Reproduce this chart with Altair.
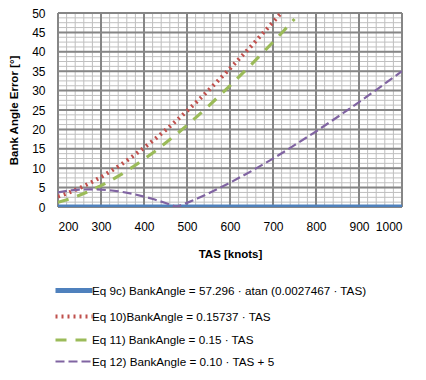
import altair as alt
import pandas as pd

# ---- data ----
labels = [
    "Eq 9c) BankAngle = 57.296 · atan (0.0027467 · TAS)",
    "Eq 10)BankAngle = 0.15737 · TAS",
    "Eq 11) BankAngle = 0.15 · TAS",
    "Eq 12) BankAngle = 0.10 · TAS + 5",
]
colors = ["#4F81BD", "#C0504D", "#9BBB59", "#8064A2"]

tas_blue = [200, 1000]
err_blue = [0, 0]

tas_red = [200, 225, 250, 275, 300, 325, 350, 375, 400, 425, 450, 475, 500,
           525, 550, 600, 650, 700, 725]
err_red = [2.69, 3.69, 4.87, 6.22, 7.72, 9.40, 11.20, 13.16, 15.26, 17.46,
           19.80, 22.22, 24.75, 27.36, 30.05, 35.68, 41.55, 47.64, 50.76]

tas_green = [200, 225, 250, 275, 300, 325, 350, 375, 400, 425, 450, 475, 500,
             525, 550, 600, 650, 700, 725, 750]
err_green = [1.22, 2.03, 3.03, 4.19, 5.51, 7.0, 8.62, 10.40, 12.31, 14.33,
             16.48, 18.72, 21.06, 23.49, 26.0, 31.26, 36.76, 42.48, 45.42, 48.45]

tas_purple = [200, 225, 250, 275, 300, 325, 350, 375, 400, 425, 450, 475, 500,
              525, 550, 600, 650, 700, 725, 750, 800, 850, 900, 950, 1000]
err_purple = [3.78, 4.22, 4.47, 4.56, 4.49, 4.25, 3.88, 3.35, 2.69, 1.92, 1.02,
              0.03, 1.06, 2.24, 3.5, 6.26, 9.26, 12.48, 14.17, 15.95, 19.47,
              23.19, 27.03, 30.97, 35.0]

x_ticks = [200, 300, 400, 500, 600, 700, 800, 900, 1000]
y_ticks = [0, 5, 10, 15, 20, 25, 30, 35, 40, 45, 50]
x_minor = list(range(200, 1001, 20))
y_minor = [i * 1.25 for i in range(41)]

# ---- tables ----
frames = []
for lab, xv, yv in zip(labels,
                       [tas_blue, tas_red, tas_green, tas_purple],
                       [err_blue, err_red, err_green, err_purple]):
    frames.append(pd.DataFrame({"tas": xv, "err": yv, "series": lab}))
df = pd.concat(frames, ignore_index=True)

xs = alt.Scale(domain=[200, 1000], nice=False, zero=False)
ys = alt.Scale(domain=[0, 50], nice=False, zero=False)

x_axis = alt.Axis(values=x_ticks, grid=False, ticks=False, domain=False,
                  format="d", labelPadding=14, titlePadding=16)
y_axis = alt.Axis(values=y_ticks, grid=False, ticks=False, domain=False,
                  labelPadding=13, titlePadding=12)
x_title = "TAS [knots]"
y_title = "Bank Angle Error [°]"


def xenc(field):
    return alt.X(field, scale=xs, axis=x_axis, title=x_title)


def yenc(field):
    return alt.Y(field, scale=ys, axis=y_axis, title=y_title)


minor_v = alt.Chart(pd.DataFrame({"x": x_minor})).mark_rule(
    color="#BFBFBF", strokeWidth=1).encode(x=xenc("x:Q"))
minor_h = alt.Chart(pd.DataFrame({"y": y_minor})).mark_rule(
    color="#BFBFBF", strokeWidth=1).encode(y=yenc("y:Q"))
major_v = alt.Chart(pd.DataFrame({"x": x_ticks})).mark_rule(
    color="#868686", strokeWidth=2).encode(x=xenc("x:Q"))
major_h = alt.Chart(pd.DataFrame({"y": y_ticks})).mark_rule(
    color="#868686", strokeWidth=2).encode(y=yenc("y:Q"))

lines = alt.Chart(df).mark_line(clip=True).encode(
    x=xenc("tas:Q"),
    y=yenc("err:Q"),
    color=alt.Color("series:N", scale=alt.Scale(domain=labels, range=colors),
                    legend=alt.Legend(title=None, orient="none", legendX=-5,
                                      legendY=269,
                                      symbolType="M-1,0L5.17,0",
                                      symbolSize=144, labelFontSize=11.7,
                                      labelFont="Liberation Sans",
                                      labelColor="#000000", labelOffset=22,
                                      labelLimit=400, rowPadding=7,
                                      padding=0)),
    strokeDash=alt.StrokeDash("series:N", scale=alt.Scale(
        domain=labels, range=[[1, 0], [2, 4], [11, 9], [9, 4]]), legend=None),
    strokeWidth=alt.StrokeWidth("series:N", scale=alt.Scale(
        domain=labels, range=[5, 2.2, 3, 3]), legend=None),
    order=alt.Order("tas:Q"),
)

chart = alt.layer(minor_v, minor_h, major_v, major_h, lines).properties(
    width=344, height=194,
    autosize=alt.AutoSizeParams(type="none"),
    padding={"left": 50, "top": 5, "right": 16, "bottom": 165},
).configure_view(stroke=None).configure_axis(
    labelFont="Liberation Sans", labelFontSize=12, labelColor="#000000",
    titleFont="Liberation Sans", titleFontSize=11.5, titleFontWeight="bold",
    titleColor="#000000",
)

chart.save("out.html", embed_options={"renderer": "svg", "actions": False})
